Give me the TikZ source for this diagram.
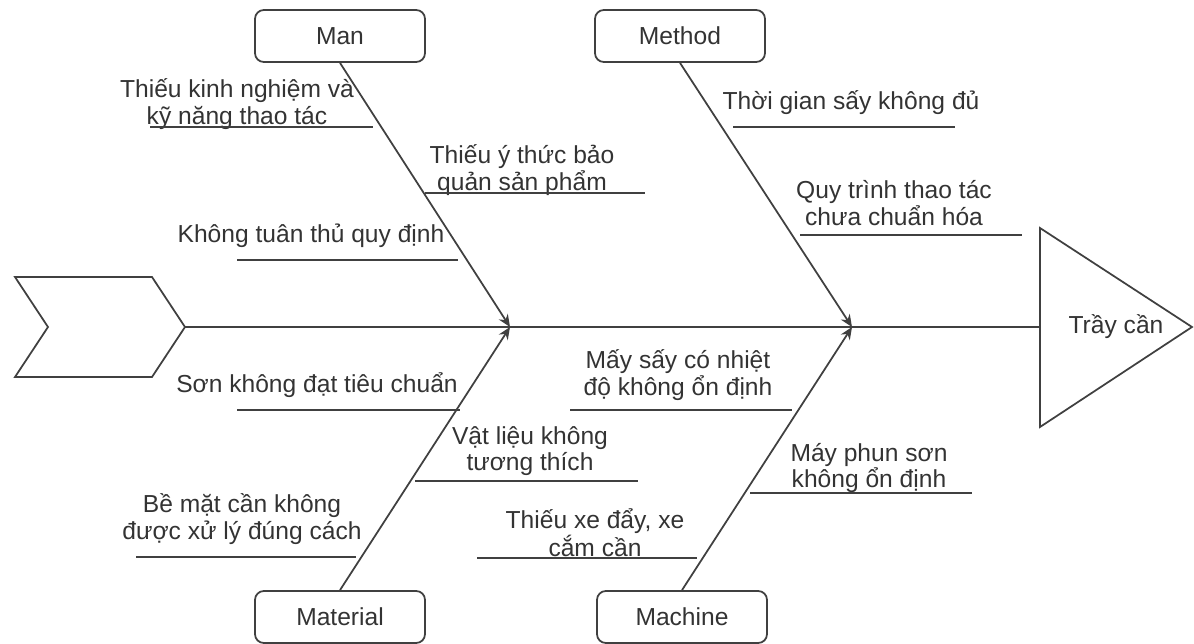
\documentclass[tikz,border=0pt]{standalone}
\usepackage{fontspec}
\setmainfont{Liberation Sans}
\usetikzlibrary{positioning, arrows.meta, calc}
\definecolor{linegray}{HTML}{404040}
\definecolor{textgray}{HTML}{333333}

\begin{document}
\begin{tikzpicture}[x=0.02cm, y=-0.02cm, line width=1pt,
    every node/.style={text=textgray, font=\fontsize{14}{15}\selectfont},
    cat/.style={draw=linegray, rounded corners=5pt, minimum width=3.4cm, minimum height=1.04cm, inner sep=0pt},
    cause/.style={align=center, inner sep=0pt},
    bone/.style={draw=linegray, -{Stealth[length=7pt, width=6pt]}},
    uline/.style={draw=linegray}]
    \useasboundingbox (0,0) rectangle (1194,643);

    % Spine
    \draw[linegray] (15,277) -- (152,277) -- (185,327) -- (152,377) -- (15,377) -- (48,327) -- cycle;
    \coordinate (tail) at (185,327);
    \coordinate (head) at (1040,327);
    \coordinate (j1) at (510,327);
    \coordinate (j2) at (852,327);
    \draw[linegray] (tail) -- (head);
    \draw[linegray] (1040,228) -- (1192,327) -- (1040,427) -- cycle;
    \node (effect) at (1116,327) {Trầy cần};

    % Categories
    \node[cat] (man) at (340,36) {Man};
    \node[cat] (method) at (680,36) {Method};
    \node[cat] (material) at (340,617) {Material};
    \node[cat] (machine) at (682,617) {Machine};
    \draw[bone] (man.south) -- (j1);
    \draw[bone] (material.north) -- (j1);
    \draw[bone] (method.south) -- (j2);
    \draw[bone] (machine.north) -- (j2);

    % Man
    \node[cause] (c1) at (237,104) {Thiếu kinh nghiệm và\\kỹ năng thao tác};
    \draw[uline] (150,127) -- (373,127);
    \node[cause] (c2) at (522,170) {Thiếu ý thức bảo\\quản sản phẩm};
    \draw[uline] (425,193) -- (645,193);
    \node[cause] (c3) at (311,236) {Không tuân thủ quy định};
    \draw[uline] (237,260) -- (458,260);

    % Method
    \node[cause] (c4) at (851,103) {Thời gian sấy không đủ};
    \draw[uline] (733,127) -- (955,127);
    \node[cause] (c5) at (894,203) {Quy trình thao tác\\chưa chuẩn hóa};
    \draw[uline] (800,235) -- (1022,235);

    % Material
    \node[cause] (c6) at (317,385) {Sơn không đạt tiêu chuẩn};
    \draw[uline] (237,410) -- (460,410);
    \node[cause] (c7) at (530,451) {Vật liệu không\\tương thích};
    \draw[uline] (415,481) -- (638,481);
    \node[cause] (c8) at (242,519) {Bề mặt cần không\\được xử lý đúng cách};
    \draw[uline] (136,557) -- (356,557);

    % Machine
    \node[cause] (c9) at (678,375) {Mấy sấy có nhiệt\\độ không ổn định};
    \draw[uline] (570,410) -- (792,410);
    \node[cause] (c10) at (869,468) {Máy phun sơn\\không ổn định};
    \draw[uline] (750,493) -- (972,493);
    \node[cause] (c11) at (595,533) {Thiếu xe đẩy, xe\\cắm cần};
    \draw[uline] (477,558) -- (697,558);
\end{tikzpicture}
\end{document}
